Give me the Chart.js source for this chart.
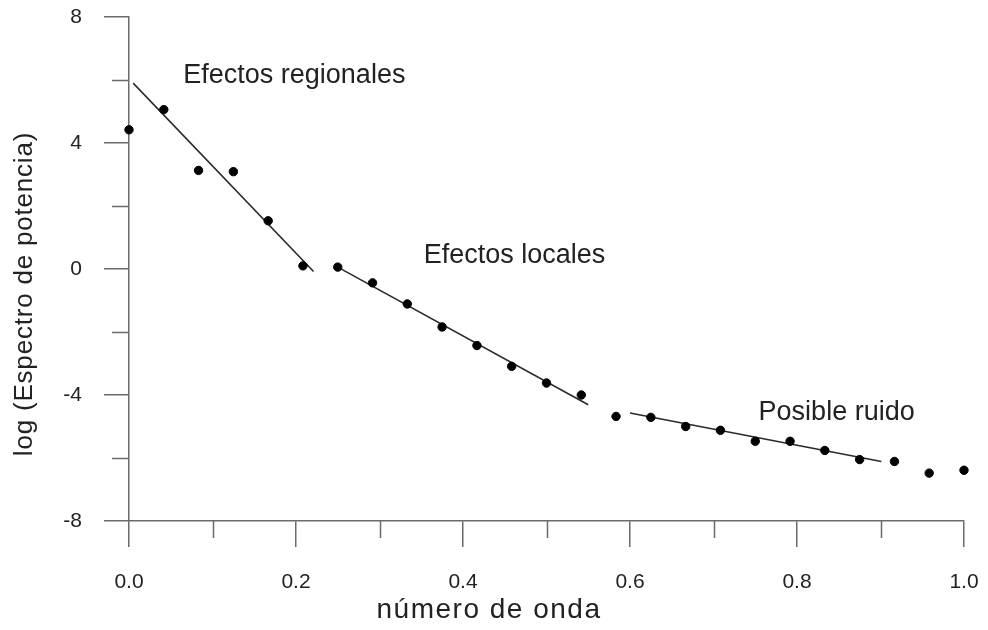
<!DOCTYPE html>
<html>
<head>
<meta charset="utf-8">
<script src="https://cdn.jsdelivr.net/npm/chart.js@4"></script>
<style>
    body { margin: 0; background: #fff; }
    #espectro { display: block; }
</style>
</head>
<body>
<canvas id="espectro" width="988" height="630"></canvas>
<script>
// datos
const numeroOnda = [0, 0.0417, 0.0833, 0.125, 0.1667, 0.2083, 0.25, 0.2917, 0.3333, 0.375, 0.4167, 0.4583, 0.5,
    0.5417, 0.5833, 0.625, 0.6667, 0.7083, 0.75, 0.7917, 0.8333, 0.875, 0.9167, 0.9583, 1.0];
const logEspectro = [4.42, 5.06, 3.13, 3.09, 1.53, 0.10, 0.06, -0.44, -1.11, -1.84, -2.43, -3.09, -3.62,
    -4.0, -4.68, -4.71, -5.0, -5.12, -5.47, -5.47, -5.76, -6.05, -6.11, -6.48, -6.39];

// rectas de ajuste [x0, y0, x1, y1]
const rectaRegional = [0.005, 5.90, 0.221, -0.08];
const rectaLocal = [0.25, 0.06, 0.55, -4.31];
const rectaRuido = [0.60, -4.57, 0.901, -6.11];

const ticksX = [0, 0.2, 0.4, 0.6, 0.8, 1.0];
const ticksXMenores = [0.1, 0.3, 0.5, 0.7, 0.9];
const ticksY = [-8, -4, 0, 4, 8];
const ticksYMenores = [-6, -2, 2, 6];

const etiquetas = [
    { texto: 'Efectos regionales', x: 0.065, y: 5.9 },
    { texto: 'Efectos locales', x: 0.353, y: 0.2 },
    { texto: 'Posible ruido', x: 0.754, y: -4.78 }
];

const FUENTE = 'Liberation Sans, Arial, sans-serif';
const EJE = '#6b6b6b';
const TEXTO = '#222';

function recta(r) {
    return [{ x: r[0], y: r[1] }, { x: r[2], y: r[3] }];
}

const puntos = numeroOnda.map((x, i) => ({ x: x, y: logEspectro[i] }));

function lineaDataset(r) {
    return {
        type: 'line',
        data: recta(r),
        borderColor: '#2a2a2a',
        borderWidth: 1.6,
        pointRadius: 0,
        showLine: true,
        clip: false
    };
}

// ticks menores y textos
const extras = {
    id: 'extras',
    afterDraw(chart) {
        const ctx = chart.ctx;
        const sx = chart.scales.x;
        const sy = chart.scales.y;
        const area = chart.chartArea;
        ctx.save();
        ctx.strokeStyle = EJE;
        ctx.lineWidth = 1.5;
        ctx.beginPath();
        ticksXMenores.forEach(v => {
            const px = Math.round(sx.getPixelForValue(v)) + 0.5;
            ctx.moveTo(px, area.bottom);
            ctx.lineTo(px, area.bottom + 17);
        });
        ticksYMenores.forEach(v => {
            const py = Math.round(sy.getPixelForValue(v)) + 0.5;
            ctx.moveTo(area.left - 17, py);
            ctx.lineTo(area.left, py);
        });
        ctx.stroke();

        ctx.fillStyle = TEXTO;
        ctx.font = '27px ' + FUENTE;
        ctx.textAlign = 'left';
        ctx.textBaseline = 'alphabetic';
        etiquetas.forEach(e => {
            ctx.fillText(e.texto, sx.getPixelForValue(e.x), sy.getPixelForValue(e.y));
        });

        // titulos de los ejes
        ctx.font = '28px ' + FUENTE;
        ctx.letterSpacing = '1.5px';
        ctx.textAlign = 'center';
        ctx.fillText('número de onda', 489, 618);

        ctx.translate(25, 294);
        ctx.rotate(-Math.PI / 2);
        ctx.font = '26px ' + FUENTE;
        ctx.letterSpacing = '0.8px';
        ctx.textBaseline = 'middle';
        ctx.fillText('log (Espectro de potencia)', 0, 0);
        ctx.restore();
    }
};

new Chart(document.getElementById('espectro'), {
    type: 'scatter',
    data: {
        datasets: [
            {
                data: puntos,
                backgroundColor: '#000',
                borderColor: '#000',
                pointRadius: 4.2,
                pointHoverRadius: 4.2,
                clip: false
            },
            lineaDataset(rectaRegional),
            lineaDataset(rectaLocal),
            lineaDataset(rectaRuido)
        ]
    },
    options: {
        responsive: false,
        animation: false,
        devicePixelRatio: 1,
        layout: { padding: { top: 17, right: 24, left: 0, bottom: 0 } },
        plugins: {
            legend: { display: false },
            tooltip: { enabled: false }
        },
        scales: {
            x: {
                type: 'linear',
                min: 0,
                max: 1,
                afterFit: s => { s.height = 109; s.paddingLeft = 0; s.paddingRight = 0; },
                afterBuildTicks: s => { s.ticks = ticksX.map(v => ({ value: v })); },
                ticks: {
                    color: TEXTO,
                    font: { family: FUENTE, size: 21 },
                    padding: 23,
                    maxRotation: 0,
                    callback: v => Number(v).toFixed(1)
                },
                grid: { drawOnChartArea: false, drawTicks: true, tickLength: 26, color: EJE, lineWidth: 1.5 },
                border: { display: true, color: EJE, width: 1.5 }
            },
            y: {
                min: -8,
                max: 8,
                afterFit: s => { s.width = 129; s.paddingTop = 0; s.paddingBottom = 0; },
                afterBuildTicks: s => { s.ticks = ticksY.map(v => ({ value: v })); },
                ticks: {
                    color: TEXTO,
                    font: { family: FUENTE, size: 21 },
                    padding: 22
                },
                grid: { drawOnChartArea: false, drawTicks: true, tickLength: 25, color: EJE, lineWidth: 1.5 },
                border: { display: true, color: EJE, width: 1.5 }
            }
        }
    },
    plugins: [extras]
});
</script>
</body>
</html>
